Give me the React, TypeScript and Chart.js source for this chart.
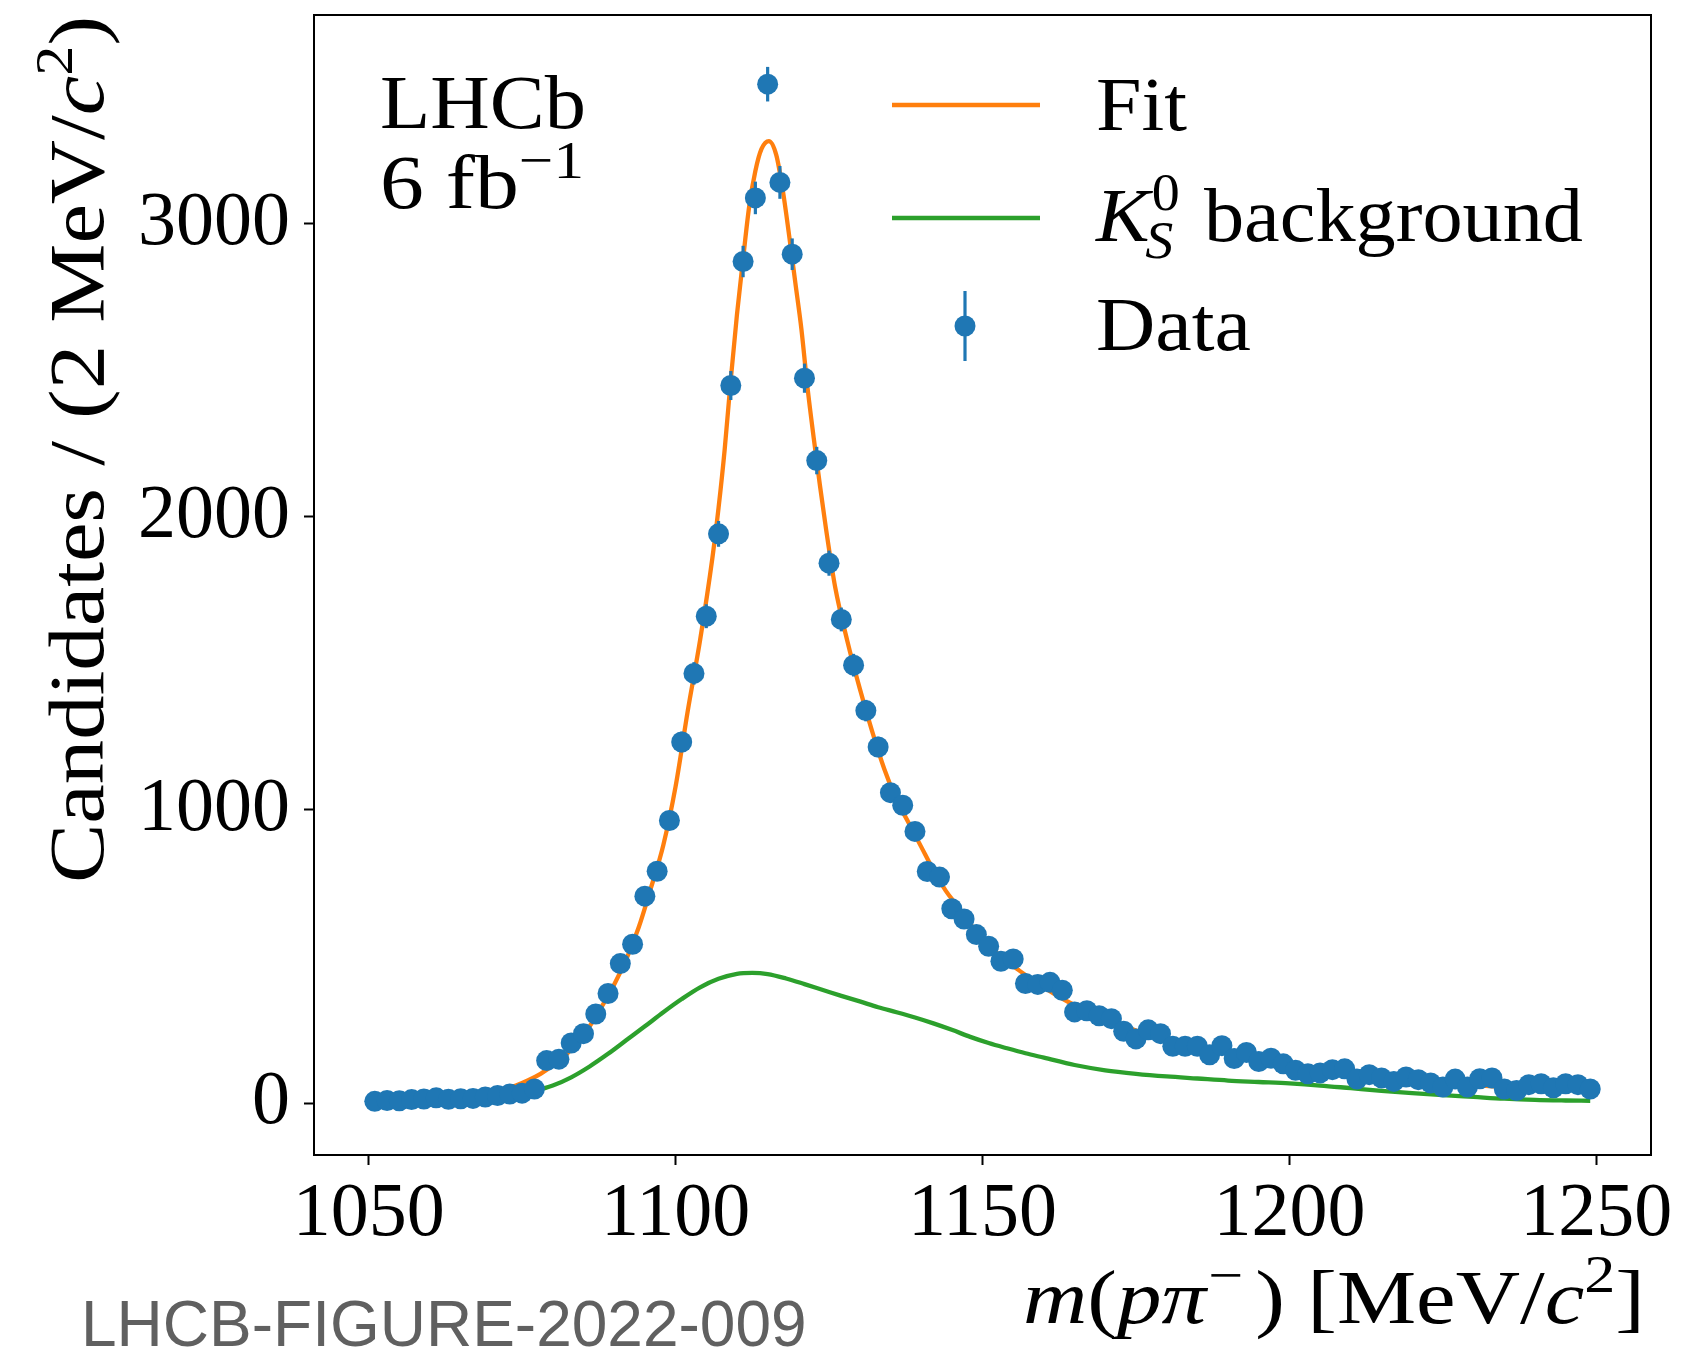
import React, { useEffect, useRef } from "react";
import { Chart, registerables } from "chart.js";

Chart.register(...registerables);

// ---- data ----
const massBins = [
  1051, 1053, 1055, 1057, 1059, 1061, 1063, 1065, 1067, 1069,
  1071, 1073, 1075, 1077, 1079, 1081, 1083, 1085, 1087, 1089,
  1091, 1093, 1095, 1097, 1099, 1101, 1103, 1105, 1107, 1109,
  1111, 1113, 1115, 1117, 1119, 1121, 1123, 1125, 1127, 1129,
  1131, 1133, 1135, 1137, 1139, 1141, 1143, 1145, 1147, 1149,
  1151, 1153, 1155, 1157, 1159, 1161, 1163, 1165, 1167, 1169,
  1171, 1173, 1175, 1177, 1179, 1181, 1183, 1185, 1187, 1189,
  1191, 1193, 1195, 1197, 1199, 1201, 1203, 1205, 1207, 1209,
  1211, 1213, 1215, 1217, 1219, 1221, 1223, 1225, 1227, 1229,
  1231, 1233, 1235, 1237, 1239, 1241, 1243, 1245, 1247, 1249,
];
const counts = [
  6, 9, 8, 12, 14, 18, 13, 15, 16, 21,
  26, 31, 34, 48, 145, 150, 205, 237, 304, 374,
  476, 542, 706, 791, 964, 1232, 1466, 1661, 1942, 2448,
  2871, 3088, 3476, 3141, 2896, 2473, 2192, 1842, 1650, 1494,
  1339, 1215, 1059, 1016, 927, 790, 771, 663, 628, 575,
  535, 484, 492, 408, 405, 412, 385, 311, 315, 298,
  288, 245, 219, 250, 237, 194, 194, 194, 165, 196,
  152, 173, 142, 153, 134, 112, 100, 103, 114, 117,
  82, 97, 86, 74, 89, 80, 69, 55, 82, 55,
  83, 86, 48, 43, 63, 66, 52, 66, 63, 48,
];

const fitMass = [
  1051, 1055, 1060, 1065, 1068, 1070, 1072, 1074, 1076, 1078,
  1080, 1082, 1084, 1086, 1088, 1090, 1092, 1094, 1096, 1098,
  1100, 1102, 1104, 1106, 1107, 1108, 1109, 1110, 1111, 1112,
  1113, 1114, 1115.2, 1116.4, 1117.5, 1118.5, 1119.5, 1120.5, 1121.5, 1122.5,
  1123.5, 1124.5, 1126, 1128, 1130, 1132, 1134, 1136, 1138, 1140,
  1142, 1144, 1146, 1148, 1150, 1153, 1156, 1160, 1164, 1168,
  1172, 1176, 1180, 1185, 1190, 1195, 1200, 1205, 1210, 1215,
  1220, 1225, 1230, 1235, 1240, 1245, 1249,
];
const fitValues = [
  4, 6, 10, 16, 24, 34, 46, 60, 78, 100,
  128, 162, 206, 262, 330, 405, 492, 600, 735, 880,
  1080, 1340, 1580, 1860, 2030, 2230, 2470, 2690, 2880, 3060,
  3180, 3255, 3282, 3235, 3110, 2960, 2800, 2640, 2440, 2270,
  2110, 1960, 1760, 1575, 1415, 1270, 1140, 1035, 955, 875,
  795, 725, 670, 611, 562, 500, 452, 395, 345, 305,
  272, 240, 214, 190, 170, 152, 134, 118, 104, 92,
  81, 72, 62, 55, 51, 48, 47,
];

const bkgMass = [
  1051, 1060, 1065, 1070, 1074, 1077, 1080, 1083, 1086, 1089,
  1092, 1095, 1098, 1101, 1104, 1107, 1110, 1112.5, 1115, 1118,
  1121, 1124, 1127, 1130, 1133, 1136, 1139, 1142, 1145, 1148,
  1151, 1154, 1157, 1160, 1165, 1170, 1175, 1180, 1185, 1190,
  1195, 1200, 1205, 1210, 1215, 1220, 1225, 1230, 1235, 1240,
  1245, 1249,
];
const bkgValues = [
  1, 3, 7, 16, 30, 42, 60, 88, 125, 168,
  215, 262, 310, 355, 395, 424, 441, 444, 440, 425,
  406, 386, 366, 347, 327, 310, 292, 272, 250, 226,
  205, 187, 170, 155, 130, 112, 100, 91, 84, 77,
  72, 67, 60, 51, 42, 34, 27, 21, 15, 11,
  9, 8,
];

const xTicks = [1050, 1100, 1150, 1200, 1250];
const yTicks = [0, 1000, 2000, 3000];

// ---- styling ----
const BLUE = "#1f77b4";
const ORANGE = "#ff7f0e";
const GREEN = "#2ca02c";
const SERIF = '"Liberation Serif", "DejaVu Serif", serif';
const FS = 76;
const rm = (s: number) => `${s}px ${SERIF}`;
const it = (s: number) => `italic ${s}px ${SERIF}`;
const SUP = Math.round(FS * 0.7);

type Run = {
  t: string;
  font: string;
  dy?: number;
  dx?: number;
  gap?: number;
  noAdvance?: boolean;
};

function runsWidth(ctx: CanvasRenderingContext2D, runs: Run[]) {
  let w = 0;
  for (const r of runs) {
    ctx.font = r.font;
    if (!r.noAdvance) w += ctx.measureText(r.t).width;
    w += r.gap || 0;
  }
  return w;
}

// Draws a block of mixed-font text, horizontally fitted to a target width
function drawBlock(
  ctx: CanvasRenderingContext2D,
  runs: Run[],
  x: number,
  y: number,
  align: "left" | "right",
  target?: number
) {
  const natural = runsWidth(ctx, runs);
  const width = target || natural;
  const sx = width / natural;
  const start = align === "right" ? x - width : x;
  ctx.save();
  ctx.translate(start, y);
  ctx.scale(sx, 1);
  ctx.textAlign = "left";
  ctx.textBaseline = "alphabetic";
  let cx = 0;
  for (const r of runs) {
    ctx.font = r.font;
    ctx.fillText(r.t, cx + (r.dx || 0), r.dy || 0);
    if (!r.noAdvance) cx += ctx.measureText(r.t).width;
    cx += r.gap || 0;
  }
  ctx.restore();
}

const overlayPlugin = {
  id: "overlay",
  beforeDatasetDraw(chart: any, args: any) {
    if (args.index !== 0) return;
    const { ctx, scales } = chart;
    const x = scales.x;
    const y = scales.y;
    ctx.save();
    ctx.strokeStyle = BLUE;
    ctx.lineWidth = 3.2;
    massBins.forEach((m, i) => {
      const err = Math.sqrt(counts[i]);
      const px = x.getPixelForValue(m);
      ctx.beginPath();
      ctx.moveTo(px, y.getPixelForValue(counts[i] - err));
      ctx.lineTo(px, y.getPixelForValue(counts[i] + err));
      ctx.stroke();
    });
    ctx.restore();
  },
  afterDraw(chart: any) {
    const { ctx, chartArea } = chart;
    const { left, right, top, bottom } = chartArea;
    ctx.save();

    // axes frame
    ctx.strokeStyle = "#000";
    ctx.lineWidth = 2;
    ctx.strokeRect(left, top, right - left, bottom - top);

    ctx.fillStyle = "#000";

    // LHCb label
    drawBlock(ctx, [{ t: "LHCb", font: rm(FS) }], 380, 128, "left", 206);
    drawBlock(
      ctx,
      [
        { t: "6 fb", font: rm(FS) },
        { t: "\u22121", font: rm(SUP), dy: -30 },
      ],
      380,
      208,
      "left",
      204
    );

    // legend handles
    ctx.lineCap = "butt";
    ctx.lineWidth = 4.3;
    ctx.strokeStyle = ORANGE;
    ctx.beginPath();
    ctx.moveTo(892, 105);
    ctx.lineTo(1040, 105);
    ctx.stroke();
    ctx.strokeStyle = GREEN;
    ctx.beginPath();
    ctx.moveTo(892, 218);
    ctx.lineTo(1040, 218);
    ctx.stroke();
    ctx.strokeStyle = BLUE;
    ctx.lineWidth = 3.2;
    ctx.beginPath();
    ctx.moveTo(965, 291);
    ctx.lineTo(965, 361);
    ctx.stroke();
    ctx.fillStyle = BLUE;
    ctx.beginPath();
    ctx.arc(965, 326, 10.5, 0, Math.PI * 2);
    ctx.fill();

    // legend texts
    ctx.fillStyle = "#000";
    drawBlock(ctx, [{ t: "Fit", font: rm(FS) }], 1096, 130, "left", 91);
    drawBlock(
      ctx,
      [
        { t: "K", font: it(FS) },
        { t: "S", font: it(SUP), dy: 17, dx: -4, noAdvance: true },
        { t: "0", font: rm(SUP), dy: -31, dx: 2, gap: 6 },
        { t: " background", font: rm(FS) },
      ],
      1096,
      241,
      "left",
      487
    );
    drawBlock(ctx, [{ t: "Data", font: rm(FS) }], 1096, 350, "left", 155);

    // x-axis title (right aligned)
    drawBlock(
      ctx,
      [
        { t: "m", font: it(FS) },
        { t: "(", font: rm(FS) },
        { t: "p", font: it(FS) },
        { t: "\u03c0", font: it(FS), gap: 2 },
        { t: "\u2212", font: rm(SUP), dy: -30, gap: 10 },
        { t: ")", font: rm(FS) },
        { t: " [MeV/", font: rm(FS) },
        { t: "c", font: it(FS) },
        { t: "2", font: rm(SUP), dy: -31 },
        { t: "]", font: rm(FS) },
      ],
      1645,
      1323,
      "right",
      622
    );

    // y-axis title (rotated, right aligned at top)
    ctx.save();
    ctx.translate(103, 16);
    ctx.rotate(-Math.PI / 2);
    drawBlock(
      ctx,
      [
        { t: "Candidates / (2 MeV/", font: rm(FS + 2) },
        { t: "c", font: it(FS + 2) },
        { t: "2", font: rm(SUP), dy: -31 },
        { t: ")", font: rm(FS + 2) },
      ],
      0,
      0,
      "right",
      867
    );
    ctx.restore();

    // figure id
    ctx.fillStyle = "#606060";
    ctx.font = '64px "Liberation Sans", Arial, sans-serif';
    ctx.textAlign = "left";
    ctx.textBaseline = "alphabetic";
    ctx.fillText("LHCB-FIGURE-2022-009", 81, 1346);

    ctx.restore();
  },
};

export default function App() {
  const ref = useRef<HTMLCanvasElement>(null);

  useEffect(() => {
    const canvas = ref.current;
    if (!canvas) return;
    const chart = new Chart(canvas, {
      type: "line",
      data: {
        datasets: [
          {
            label: "Data",
            data: massBins.map((m, i) => ({ x: m, y: counts[i] })),
            showLine: false,
            pointRadius: 10.5,
            pointHoverRadius: 10.5,
            pointBackgroundColor: BLUE,
            pointBorderWidth: 0,
            borderColor: BLUE,
            order: 0,
          },
          {
            label: "Fit",
            data: fitMass.map((m, i) => ({ x: m, y: fitValues[i] })),
            borderColor: ORANGE,
            borderWidth: 4.3,
            pointRadius: 0,
            cubicInterpolationMode: "monotone",
            fill: false,
            order: 1,
          },
          {
            label: "K_S^0 background",
            data: bkgMass.map((m, i) => ({ x: m, y: bkgValues[i] })),
            borderColor: GREEN,
            borderWidth: 4.3,
            pointRadius: 0,
            cubicInterpolationMode: "monotone",
            fill: false,
            order: 2,
          },
        ],
      } as any,
      options: {
        responsive: false,
        animation: false,
        devicePixelRatio: 1,
        events: [],
        layout: {
          autoPadding: false,
          padding: { left: 0, top: 15, right: 51, bottom: 0 },
        },
        plugins: {
          legend: { display: false },
          title: { display: false },
          tooltip: { enabled: false },
        },
        scales: {
          x: {
            type: "linear",
            min: 1041.1,
            max: 1258.9,
            afterBuildTicks: (s: any) => {
              s.ticks = xTicks.map((v) => ({ value: v }));
            },
            afterFit: (s: any) => {
              s.height = 197;
              s.paddingLeft = 0;
              s.paddingRight = 0;
            },
            grid: {
              drawOnChartArea: false,
              drawTicks: true,
              tickLength: 10,
              tickWidth: 2,
              tickColor: "#000",
              color: "#000",
            },
            border: { display: false },
            ticks: {
              autoSkip: false,
              maxRotation: 0,
              minRotation: 0,
              padding: 4,
              color: "#000",
              font: { family: SERIF, size: FS },
              callback: (v: any) => String(v),
            },
          },
          y: {
            type: "linear",
            min: -177,
            max: 3712,
            afterBuildTicks: (s: any) => {
              s.ticks = yTicks.map((v) => ({ value: v }));
            },
            afterFit: (s: any) => {
              s.width = 314;
              s.paddingTop = 0;
              s.paddingBottom = 0;
            },
            grid: {
              drawOnChartArea: false,
              drawTicks: true,
              tickLength: 10,
              tickWidth: 2,
              tickColor: "#000",
              color: "#000",
            },
            border: { display: false },
            ticks: {
              autoSkip: false,
              padding: 14,
              color: "#000",
              font: { family: SERIF, size: FS },
              callback: (v: any) => String(v),
            },
          },
        },
      } as any,
      plugins: [overlayPlugin as any],
    });
    return () => chart.destroy();
  }, []);

  return (
    <div
      style={{
        position: "absolute",
        left: 0,
        top: 0,
        width: 1702,
        height: 1352,
        background: "#fff",
        overflow: "hidden",
      }}
    >
      <canvas
        ref={ref}
        width={1702}
        height={1352}
        style={{ display: "block", width: 1702, height: 1352 }}
      />
    </div>
  );
}
